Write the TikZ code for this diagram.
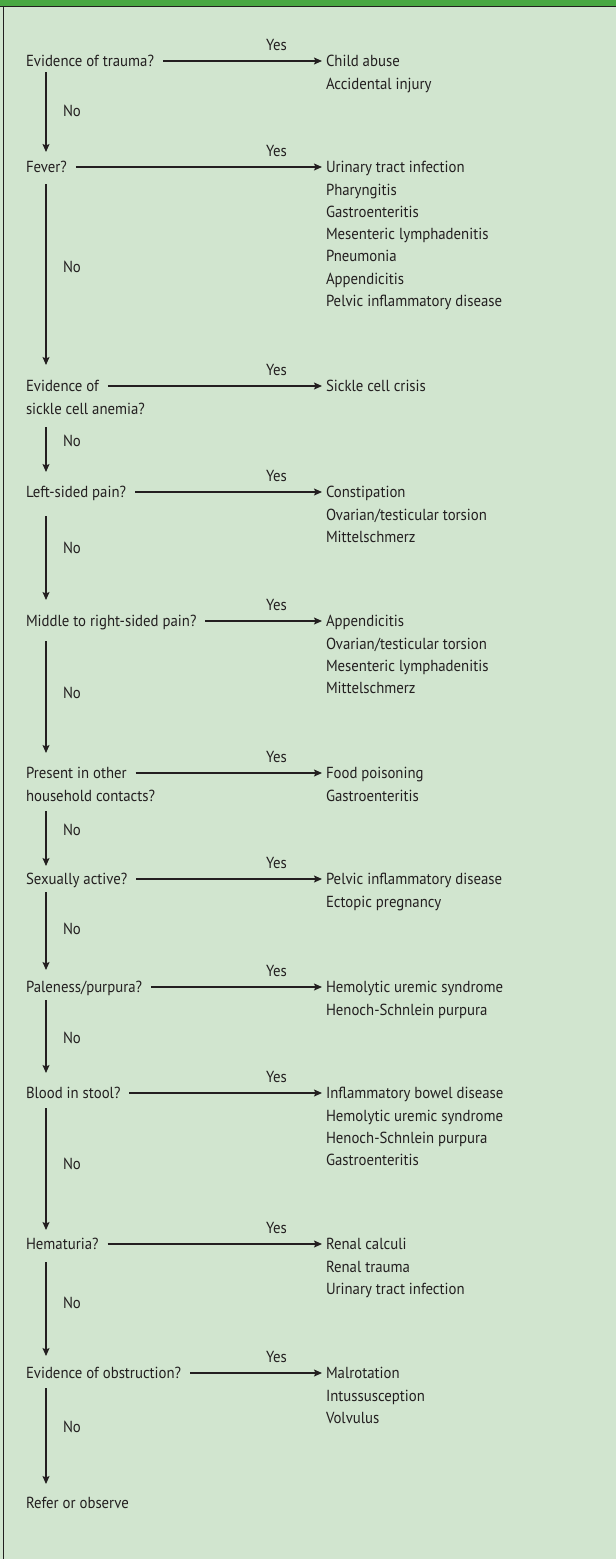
\documentclass[tikz,border=0pt]{standalone}
\usepackage{fontspec}
\setmainfont{PT Sans}[FakeStretch=0.925]
\usetikzlibrary{arrows.meta,calc}
\definecolor{bg}{RGB}{209,229,207}
\definecolor{bar}{RGB}{73,168,67}
\definecolor{ink}{RGB}{35,31,32}
\newcommand\qrow[4]{%
  \coordinate (c#1) at (0,#2);
  \node[txt] (q#1) at (26,#2+5.7) {#3};
  \foreach \t [count=\i from 0] in {#4} {\node[txt] (o#1-\i) at (326,#2+5.7+22.3*\i) {\t};}
  \node[txt,anchor=base] (y#1) at (276.5,#2-10.3) {Yes};
  \draw[arr,shorten >=4pt] ($(q#1.east |- c#1)+(9,0)$) -- (o#1-0.west |- c#1);
}
\newcommand\vrow[4]{%
  \coordinate (s#1) at (46,#2);
  \coordinate (t#1) at (46,#3);
  \draw[arr] (s#1) -- (t#1);
  \node[txt] (n#1) at (63,#4+5.7) {No};
}
\begin{document}
\begin{tikzpicture}[x=1pt,y=-1pt,
  txt/.style={anchor=base west,inner sep=0pt,outer sep=0pt,text=ink,font=\fontsize{16}{18}\selectfont},
  arr/.style={draw=ink,line width=1.1pt,-{Stealth[length=8pt,width=7pt,inset=1.5pt]}}]
\useasboundingbox (0,0) rectangle (616,1559);
\fill[bg] (0,0) rectangle (616,1559);
\fill[bar] (0,0) rectangle (616,6);
\draw[ink,line width=1.3pt] (0,6.3) -- (616,6.3);
\draw[ink,line width=1.2pt] (3.5,6.3) -- (3.5,1559);

\qrow{1}{61}{Evidence of trauma?}{Child abuse,Accidental injury}
\qrow{2}{167}{Fever?}{Urinary tract infection,Pharyngitis,Gastroenteritis,Mesenteric lymphadenitis,Pneumonia,Appendicitis,Pelvic inflammatory disease}
\qrow{3}{386}{Evidence of}{Sickle cell crisis}
\node[txt] (q3b) at (26,386+5.7+22.8) {sickle cell anemia?};
\qrow{4}{492}{Left-sided pain?}{Constipation,Ovarian/testicular torsion,Mittelschmerz}
\qrow{5}{621}{Middle to right-sided pain?}{Appendicitis,Ovarian/testicular torsion,Mesenteric lymphadenitis,Mittelschmerz}
\qrow{6}{773}{Present in other}{Food poisoning,Gastroenteritis}
\node[txt] (q6b) at (26,773+5.7+22.3) {household contacts?};
\qrow{7}{879}{Sexually active?}{Pelvic inflammatory disease,Ectopic pregnancy}
\qrow{8}{987}{Paleness/purpura?}{Hemolytic uremic syndrome,Henoch-Schnlein purpura}
\qrow{9}{1093}{Blood in stool?}{Inflammatory bowel disease,Hemolytic uremic syndrome,Henoch-Schnlein purpura,Gastroenteritis}
\qrow{10}{1244}{Hematuria?}{Renal calculi,Renal trauma,Urinary tract infection}
\qrow{11}{1373}{Evidence of obstruction?}{Malrotation,Intussusception,Volvulus}
\node[txt] (q12) at (26,1503+5.7) {Refer or observe};

\vrow{1}{72}{152}{111}
\vrow{2}{184}{365}{267}
\vrow{3}{427}{472}{441}
\vrow{4}{516}{600}{548}
\vrow{5}{641}{753}{693}
\vrow{6}{811}{866}{830}
\vrow{7}{892}{970}{929}
\vrow{8}{1000}{1073}{1038}
\vrow{9}{1108}{1230}{1164}
\vrow{10}{1262}{1356}{1303}
\vrow{11}{1388}{1484}{1427}
\end{tikzpicture}
\end{document}
